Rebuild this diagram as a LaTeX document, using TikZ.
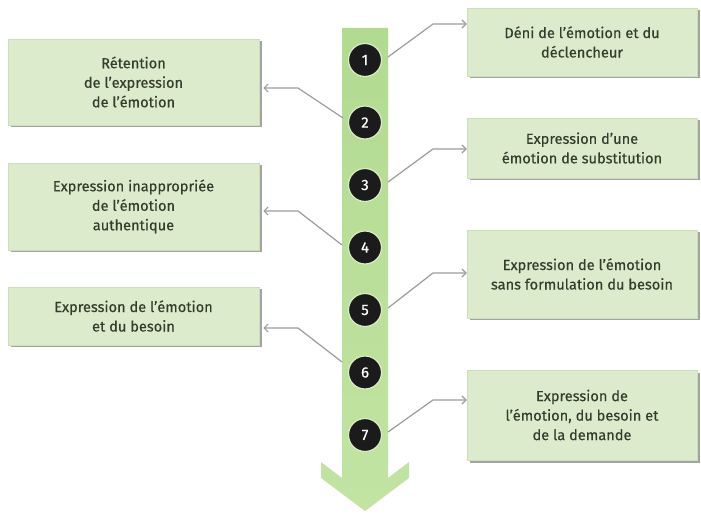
\documentclass[tikz,border=0pt]{standalone}
\usepackage{fontspec}
\setmainfont{Fira Sans}[FakeBold=0.35]
\newfontfamily\numfont{Fira Sans}[FakeBold=0.6]
\usetikzlibrary{arrows.meta,shadows,calc}
\definecolor{boxfill}{HTML}{DCEBCB}
\definecolor{boxedge}{HTML}{CCDFB8}
\definecolor{textcol}{HTML}{343C2E}
\definecolor{shafttop}{HTML}{B2DA90}
\definecolor{shaftbot}{HTML}{C2E4A3}
\definecolor{numfill}{HTML}{1B1B1B}
\definecolor{rimcol}{HTML}{D9EEC6}
\definecolor{conncol}{HTML}{9C9C9C}
\tikzset{
  stagebox/.style={rectangle, fill=boxfill, draw=boxedge, line width=0.5pt,
    text=textcol, align=center, inner sep=0pt,
    font=\fontsize{14.6}{19.5}\selectfont,
    drop shadow={shadow xshift=2.5pt, shadow yshift=-2.5pt, fill=black!40, opacity=0.9}},
  leftbox/.style={stagebox, minimum width=251pt},
  rightbox/.style={stagebox, minimum width=230pt},
  stepnum/.style={circle, fill=numfill, draw=rimcol, line width=1.2pt,
    minimum size=33pt, inner sep=0pt, text=white,
    font=\numfont\fontsize{15}{15}\selectfont},
  conn/.style={draw=conncol, line width=1.2pt, line join=round,
    -{Straight Barb[length=4pt,width=8pt]}}
}
\begin{document}
\begin{tikzpicture}[x=1pt,y=-1pt]
\useasboundingbox[fill=white] (0,0) rectangle (701,518);

% the downward arrow carrying the seven steps
\shade[top color=shafttop, bottom color=shaftbot]
  (342,28) -- (388,28) -- (388,478) -- (409,462) -- (409,478) -- (365,511)
  -- (321,478) -- (321,462) -- (342,478) -- cycle;

% numbered steps
\node[stepnum] (c1) at (365,60)    {1};
\node[stepnum] (c2) at (365,122.5) {2};
\node[stepnum] (c3) at (365,185)   {3};
\node[stepnum] (c4) at (365,247.5) {4};
\node[stepnum] (c5) at (365,310)   {5};
\node[stepnum] (c6) at (365,372.5) {6};
\node[stepnum] (c7) at (365,435)   {7};

% left column
\node[leftbox, minimum height=86pt] (l1) at (133.5,82)
  {Rétention\\de l'expression\\de l'émotion};
\node[leftbox, minimum height=87pt] (l2) at (133.5,206.5)
  {Expression inappropriée\\de l'émotion\\authentique};
\node[leftbox, minimum height=58pt] (l3) at (133.5,316)
  {Expression de l'émotion\\et du besoin};

% right column
\node[rightbox, minimum height=68pt] (r1) at (582,42)
  {Déni de l'émotion et du\\déclencheur};
\node[rightbox, minimum height=60pt] (r2) at (582,148)
  {Expression d'une\\émotion de substitution};
\node[rightbox, minimum height=88pt] (r3) at (582,274)
  {Expression de l'émotion\\sans formulation du besoin};
\node[rightbox, minimum height=90pt] (r4) at (582,415)
  {Expression de\\l'émotion, du besoin et\\de la demande};

% connector start points on the shaft edges and their bends
\coordinate (s1) at (388,57);  \coordinate (k1) at (433,24);
\coordinate (s3) at (388,182); \coordinate (k3) at (433,149);
\coordinate (s5) at (388,308); \coordinate (k5) at (433,273);
\coordinate (s7) at (388,432); \coordinate (k7) at (433,400);
\coordinate (s2) at (343,118); \coordinate (k2) at (298,88);
\coordinate (s4) at (342,245); \coordinate (k4) at (298,211);
\coordinate (s6) at (342,362); \coordinate (k6) at (298,328);

\draw[conn] (s1) -- (k1) -- (r1.west |- k1);
\draw[conn] (s3) -- (k3) -- (r2.west |- k3);
\draw[conn] (s5) -- (k5) -- (r3.west |- k5);
\draw[conn] (s7) -- (k7) -- (r4.west |- k7);
\draw[conn] (s2) -- (k2) -- ($(l1.east |- k2)+(4,0)$);
\draw[conn] (s4) -- (k4) -- ($(l2.east |- k4)+(4,0)$);
\draw[conn] (s6) -- (k6) -- ($(l3.east |- k6)+(4,0)$);
\end{tikzpicture}
\end{document}
